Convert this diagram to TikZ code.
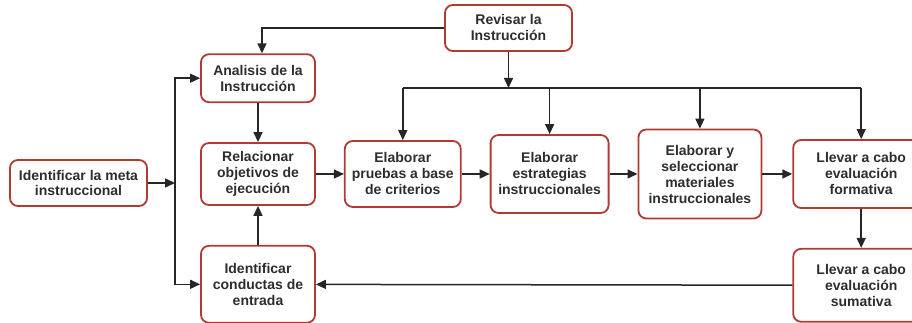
\documentclass[tikz,border=0pt]{standalone}
\usepackage{fontspec}
\setmainfont{Liberation Sans}
\usepackage{tikz}
\usetikzlibrary{arrows.meta, positioning}
\definecolor{bordo}{RGB}{176,58,52}
\definecolor{tinta}{RGB}{45,45,45}

\begin{document}
\begin{tikzpicture}[
  node distance=39pt and 28pt,
  box/.style={draw=bordo, line width=1.8pt, rounded corners=8pt, align=center,
              text=tinta, font=\fontsize{14pt}{16pt}\selectfont\bfseries, inner sep=2pt},
  arr/.style={-{Triangle[length=10pt, width=9pt]}, line width=1.5pt, black!85},
  bus/.style={line width=1.5pt, black!85}
]
\useasboundingbox (0,0) rectangle (912pt,323pt);
\clip (0,0) rectangle (912pt,323pt);
\node[box, minimum width=114pt, minimum height=62pt] (rel) at (258pt,149pt) {Relacionar\\objetivos de\\ejecución};
\node[box, minimum width=114pt, minimum height=48pt, above=of rel] (ana) {Analisis de la\\Instrucción};
\node[box, minimum width=114pt, minimum height=77pt, below=of rel] (con) {Identificar\\conductas de\\entrada};
\node[box, minimum width=137pt, minimum height=46pt] (meta) at (78.5pt,140pt) {Identificar la meta\\instruccional};
\node[box, minimum width=116pt, minimum height=66pt, right=of rel] (pru) {Elaborar\\pruebas a base\\de criterios};
\node[box, minimum width=118pt, minimum height=78pt, right=of pru] (est) {Elaborar\\estrategias\\instruccionales};
\node[box, minimum width=123pt, minimum height=89pt, right=of est] (mat) {Elaborar y\\seleccionar\\materiales\\instruccionales};
\node[box, minimum width=136pt, minimum height=68pt, right=30pt of mat] (for) {Llevar a cabo\\evaluación\\formativa};
\node[box, minimum width=136pt, minimum height=73pt, below=of for] (sum) {Llevar a cabo\\evaluación\\sumativa};
\node[box, minimum width=127pt, minimum height=46pt] (rev) at (508.5pt,295pt) {Revisar la\\Instrucción};

% ramas
\coordinate (split) at (175pt,140pt);
\coordinate (top) at (0,235pt);
\draw[arr] (meta) -- (split);
\draw[arr] (split) |- (ana);
\draw[arr] (split) |- (con);
\draw[arr] (rev.west) -| ([xshift=4pt]ana.north);
\draw[arr] (rev) -- (rev |- top);
\draw[bus] (pru |- top) -- (for |- top);
\foreach \x in {pru,est,mat,for} \draw[arr] (\x |- top) -- (\x);
\foreach \x/\y in {ana/rel,con/rel,rel/pru,pru/est,est/mat,mat/for,for/sum,sum/con} \draw[arr] (\x) -- (\y);
\end{tikzpicture}
\end{document}
